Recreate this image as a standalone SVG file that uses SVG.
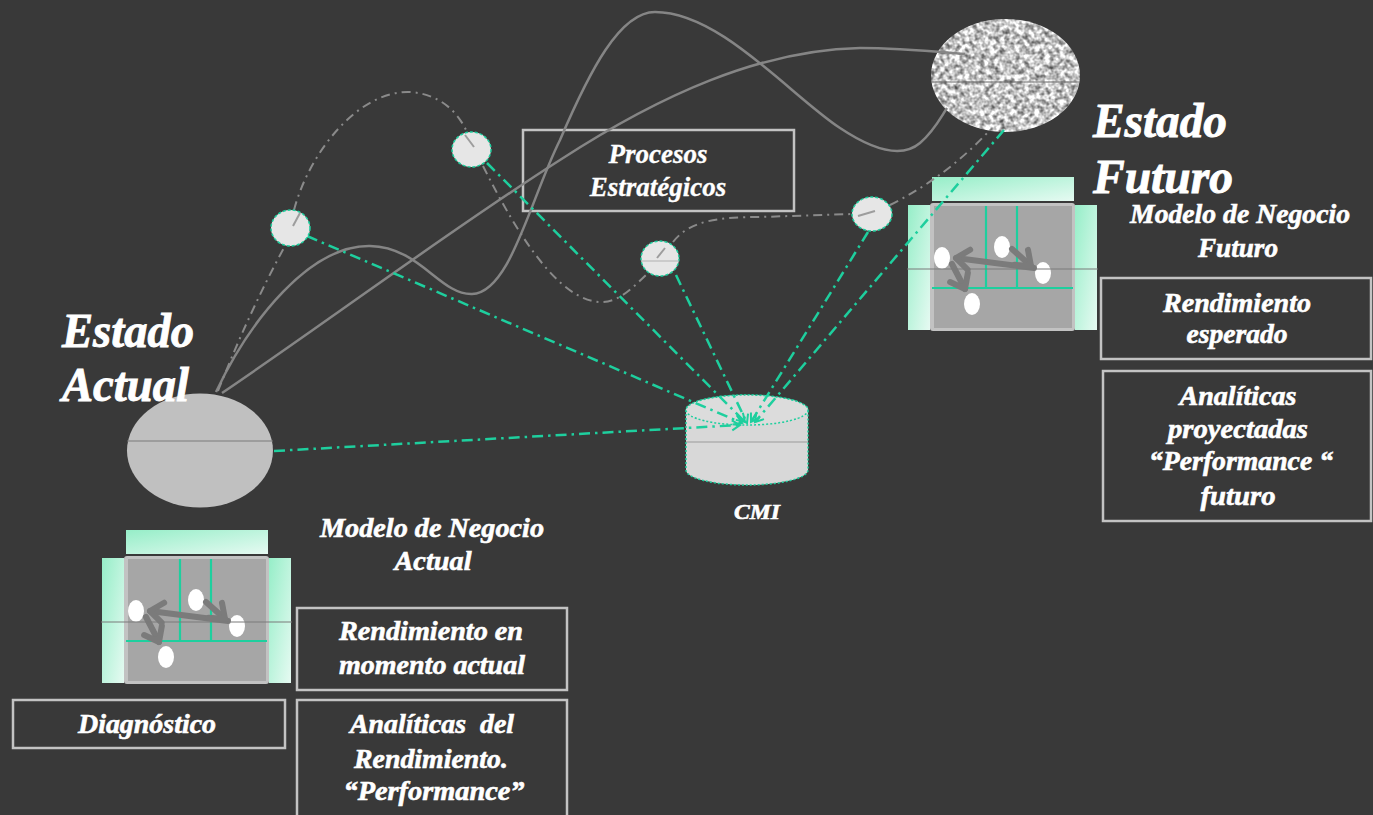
<svg xmlns="http://www.w3.org/2000/svg" width="1373" height="815" viewBox="0 0 1373 815">
<defs>
<style>
.t{font-family:"Liberation Serif","Times New Roman",serif;font-weight:bold;font-style:italic;fill:#ffffff;stroke:#ffffff;stroke-width:0.6;white-space:pre;}
.big{font-size:48px;stroke-width:0.9;}
.mid{font-size:27px;}
.box{fill:none;stroke:#c3c3c3;stroke-width:2.5;}
.solid{fill:none;stroke:#858585;stroke-width:2.5;}
.gdd{fill:none;stroke:#8a8a8a;stroke-width:2;stroke-dasharray:9 5 2 5;}
.tdd{fill:none;stroke:#1ecf9e;stroke-width:2.5;stroke-dasharray:11 5 2.5 5;marker-end:url(#ta);}
.node{fill:#e6e6e6;stroke:#1ecf9e;stroke-width:1.5;stroke-dasharray:3 2;}
.tick{stroke:#9d9d9d;stroke-width:2;}
.grid{stroke:#1ecf9e;stroke-width:2.2;}
.wh{fill:#ffffff;}
.arr{fill:none;stroke:#7b7b7b;stroke-width:6;stroke-linecap:round;marker-end:url(#ga);}
.midl{stroke:#7a7a7a;stroke-width:1.2;}
</style>
<linearGradient id="mint" x1="0" y1="0" x2="1" y2="1">
<stop offset="0" stop-color="#96eec8"/>
<stop offset="1" stop-color="#e6faf2"/>
</linearGradient>
<marker id="ga" viewBox="-18 -14 22 28" markerWidth="22" markerHeight="28" refX="0" refY="0" orient="auto" markerUnits="userSpaceOnUse" overflow="visible">
<path d="M-13,-10 L0,0 L-13,10" fill="none" stroke="#7b7b7b" stroke-width="6" stroke-linecap="round" stroke-linejoin="round"/>
</marker>
<marker id="ta" viewBox="-10 -7 12 14" markerWidth="12" markerHeight="14" refX="0" refY="0" orient="auto" markerUnits="userSpaceOnUse" overflow="visible">
<path d="M-8,-5 L0,0 L-8,5" fill="none" stroke="#1ecf9e" stroke-width="2"/>
</marker>
<filter id="noise" x="0" y="0" width="100%" height="100%" color-interpolation-filters="sRGB">
<feTurbulence type="fractalNoise" baseFrequency="0.2" numOctaves="2" seed="7" result="n"/>
<feColorMatrix in="n" type="matrix" values="1.3 0 0 0 0.12  1.3 0 0 0 0.12  1.3 0 0 0 0.12  0 0 0 0 1" result="g"/>
<feGaussianBlur in="g" stdDeviation="0.6" result="b"/>
<feComposite in="b" in2="SourceGraphic" operator="in"/>
</filter>
<g id="bm">
<rect x="126" y="530" width="142" height="24" fill="url(#mint)"/>
<rect x="102" y="558" width="22" height="125" fill="url(#mint)"/>
<rect x="269" y="558" width="22" height="125" fill="url(#mint)"/>
<rect x="124" y="556" width="145" height="128" rx="3" fill="#c2c2c2"/>
<rect x="128" y="559" width="138" height="122" fill="#a6a6a6"/>
<line class="grid" x1="180" y1="559" x2="180" y2="641"/>
<line class="grid" x1="211" y1="559" x2="211" y2="641"/>
<line class="grid" x1="126" y1="641" x2="267" y2="641"/>
<ellipse class="wh" cx="136" cy="611" rx="8" ry="11"/>
<ellipse class="wh" cx="196" cy="600" rx="8" ry="11"/>
<ellipse class="wh" cx="237" cy="626" rx="8" ry="11"/>
<ellipse class="wh" cx="166" cy="657" rx="8" ry="11"/>
<path class="arr" d="M228,621 L150,611"/>
<path class="arr" d="M206,602 L225,619"/>
<path class="arr" d="M146,617 L159,642"/>
<line class="midl" x1="101" y1="622" x2="292" y2="622"/>
</g>
</defs>

<rect x="0" y="0" width="1373" height="815" fill="#393939"/>

<g id="estado-actual">
<ellipse cx="200" cy="450.5" rx="73" ry="57" fill="#c0c0c0"/>
<line class="midl" x1="127" y1="441" x2="273" y2="441"/>
<text class="t big" x="62" y="347" textLength="132" lengthAdjust="spacingAndGlyphs">Estado</text>
<text class="t big" x="62" y="401" textLength="127" lengthAdjust="spacingAndGlyphs">Actual</text>
</g>

<g id="estado-futuro">
<ellipse cx="1005.5" cy="75.5" rx="74.5" ry="56.5" fill="#bbbbbb" filter="url(#noise)"/>
<line x1="931" y1="82" x2="1080" y2="82" stroke="#666" stroke-width="1.2"/>
<text class="t big" x="1093" y="137" textLength="134" lengthAdjust="spacingAndGlyphs">Estado</text>
<text class="t big" x="1093" y="193" textLength="140" lengthAdjust="spacingAndGlyphs">Futuro</text>
</g>

<g id="cmi">
<path d="M686,410 L686,470 A61,15 0 0 0 808,470 L808,410 A61,15 0 0 0 686,410 Z" fill="#d8d8d8" stroke="#1ecf9e" stroke-width="1.5" stroke-dasharray="2 2"/>
<ellipse cx="747" cy="410" rx="61" ry="15" fill="#dcdcdc" stroke="#1ecf9e" stroke-width="1.5" stroke-dasharray="2 2"/>
<line x1="686" y1="442" x2="808" y2="442" stroke="#9a9a9a" stroke-width="1.2"/>
<text class="t" x="757" y="519" font-size="22" text-anchor="middle" textLength="46" lengthAdjust="spacingAndGlyphs">CMI</text>
</g>

<g id="modelo-actual">
<use href="#bm"/>
<text class="t mid" x="432" y="537" text-anchor="middle" textLength="224" lengthAdjust="spacingAndGlyphs">Modelo de Negocio</text>
<text class="t mid" x="433" y="570" text-anchor="middle" textLength="77" lengthAdjust="spacingAndGlyphs">Actual</text>
</g>

<g id="modelo-futuro">
<use href="#bm" x="806" y="-353"/>
<text class="t mid" x="1240" y="223" text-anchor="middle" textLength="220" lengthAdjust="spacingAndGlyphs">Modelo de Negocio</text>
<text class="t mid" x="1238" y="257" text-anchor="middle" textLength="80" lengthAdjust="spacingAndGlyphs">Futuro</text>
</g>

<g id="procesos">
<rect class="box" x="523" y="130" width="271" height="81"/>
<text class="t" x="658" y="163" font-size="27" text-anchor="middle" style="stroke-width:0.3">Procesos</text>
<text class="t" x="658" y="196" font-size="27" text-anchor="middle" style="stroke-width:0.3">Estratégicos</text>
</g>

<g id="rendimiento-actual">
<rect class="box" x="297" y="608" width="270" height="82"/>
<text class="t mid" x="431" y="640" text-anchor="middle" textLength="184" lengthAdjust="spacingAndGlyphs">Rendimiento en</text>
<text class="t mid" x="432" y="674" text-anchor="middle" textLength="186" lengthAdjust="spacingAndGlyphs">momento actual</text>
</g>

<g id="diagnostico">
<rect class="box" x="13" y="700" width="272" height="48"/>
<text class="t mid" x="147" y="733" text-anchor="middle" textLength="138" lengthAdjust="spacingAndGlyphs">Diagnóstico</text>
</g>

<g id="analiticas-actual">
<rect class="box" x="297" y="700" width="270" height="130"/>
<text class="t mid" x="432" y="733" text-anchor="middle" textLength="164" lengthAdjust="spacingAndGlyphs">Analíticas  del</text>
<text class="t mid" x="431" y="768" text-anchor="middle" textLength="154" lengthAdjust="spacingAndGlyphs">Rendimiento.</text>
<text class="t mid" x="434" y="800" text-anchor="middle" textLength="181" lengthAdjust="spacingAndGlyphs">“Performance”</text>
</g>

<g id="rendimiento-esperado">
<rect class="box" x="1101" y="278" width="270" height="81"/>
<text class="t mid" x="1237" y="312" text-anchor="middle" textLength="148" lengthAdjust="spacingAndGlyphs">Rendimiento</text>
<text class="t mid" x="1237" y="343" text-anchor="middle" textLength="101" lengthAdjust="spacingAndGlyphs">esperado</text>
</g>

<g id="analiticas-proyectadas">
<rect class="box" x="1103" y="371" width="268" height="150"/>
<text class="t mid" x="1238" y="405" text-anchor="middle" textLength="117" lengthAdjust="spacingAndGlyphs">Analíticas</text>
<text class="t mid" x="1238" y="438" text-anchor="middle" textLength="140" lengthAdjust="spacingAndGlyphs">proyectadas</text>
<text class="t mid" x="1241" y="470" text-anchor="middle" textLength="184" lengthAdjust="spacingAndGlyphs">“Performance “</text>
<text class="t mid" x="1238" y="505" text-anchor="middle" textLength="75" lengthAdjust="spacingAndGlyphs">futuro</text>
</g>

<g id="connectors">
<path class="solid" d="M216,392 C250,320 310,245 370,246 C420,247 440,295 472,294 C510,293 530,200 560,140 C590,70 620,12 655,12 C720,12 790,95 840,128 C870,148 900,160 920,143 C935,130 942,115 947,108"/>
<path class="solid" d="M222,393 C330,320 450,230 560,160 C660,95 760,50 860,48 C900,48 940,52 965,54"/>
<path class="gdd" d="M218,391 Q250,310 285,246"/>
<path class="gdd" d="M294,210 C310,150 360,90 410,92 C440,94 458,112 467,132"/>
<path class="gdd" d="M483,166 C520,240 560,300 600,302 C620,303 635,285 648,273"/>
<path class="gdd" d="M673,242 C690,220 720,217 760,217 L853,214"/>
<path class="gdd" d="M890,205 C930,185 962,160 990,130"/>
<path class="tdd" d="M274,451 L740,425"/>
<path class="tdd" d="M307,236 L742,423"/>
<path class="tdd" d="M487,163 L745,422"/>
<path class="tdd" d="M676,275 L747,423"/>
<path class="tdd" d="M868,232 L751,422"/>
<path class="tdd" d="M1004,130 L755,422"/>
</g>

<g id="nodo-a">
<ellipse class="node" cx="290.5" cy="228" rx="19.5" ry="18"/>
<line class="tick" x1="300" y1="213" x2="293" y2="226"/>
</g>
<g id="nodo-b">
<ellipse class="node" cx="471.5" cy="149.5" rx="19.5" ry="17.5"/>
<line class="tick" x1="465" y1="135" x2="474" y2="147"/>
</g>
<g id="nodo-c">
<ellipse class="node" cx="660" cy="258.5" rx="19" ry="17.5"/>
<line class="tick" x1="665" y1="248" x2="657" y2="258"/>
<line x1="641" y1="261" x2="679" y2="261" stroke="#b0b0b0" stroke-width="1"/>
</g>
<g id="nodo-d">
<ellipse class="node" cx="872" cy="214" rx="20" ry="17"/>
<line class="tick" x1="858" y1="216" x2="875" y2="211"/>
</g>
</svg>
